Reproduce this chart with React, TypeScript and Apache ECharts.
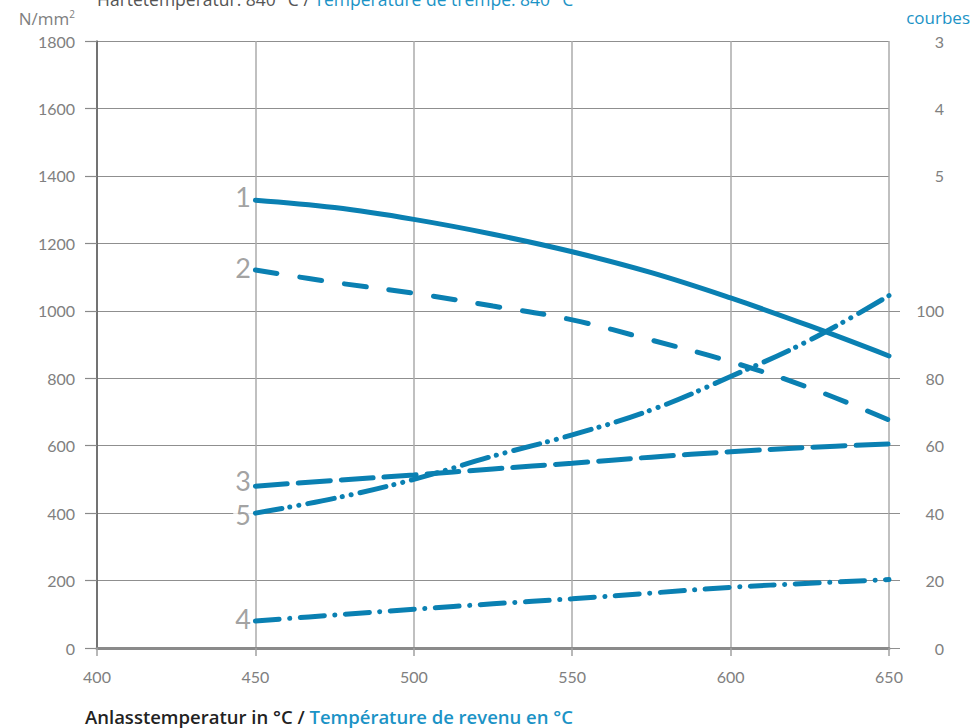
import React, { useEffect, useRef } from 'react';
import * as echarts from 'echarts';

const temps = [450, 475, 500, 525, 550, 575, 600, 625, 650];
const curve1 = [1328, 1306, 1271, 1227, 1175, 1113, 1038, 955, 866];
const curve2 = [1121, 1084, 1052, 1014, 973, 913, 849, 771, 676];
const curve3 = [480, 497, 513, 531, 548, 566, 582, 595, 605];
const curve4 = [80, 98, 115, 131, 146, 163, 180, 192, 203];
const curve5 = [400, 444, 500, 569, 632, 706, 805, 913, 1045];
const curveNames = ['1', '2', '3', '4', '5'];
const rightValues = [0, 200, 400, 600, 800, 1000, 1400, 1600, 1800];
const rightLabels = ['0', '20', '40', '60', '80', '100', '5', '4', '3'];

const BLUE = '#0a80b2';
const LABEL_BLUE = '#1b93c6';
const GRAY = '#808080';
const FONT = 'Lato, "Noto Sans", sans-serif';
const TFONT = '"Open Sans", Lato, sans-serif';

export default function App() {
  const ref = useRef<HTMLDivElement>(null);
  useEffect(() => {
    if (!ref.current) return;
    const chart = echarts.init(ref.current, undefined, { renderer: 'svg' });
    const curves = [curve1, curve2, curve3, curve4, curve5];
    const dashes: any[] = [
      'solid',
      [22, 23],
      [32, 11],
      [24, 10.5, 0.1, 10.5],
      [27, 8, 0.1, 9, 0.1, 9],
    ];
    const labelOffsets = [[0, -4], [0, -2], [0, -6], [0, -3], [0, 1]];
    const lineSeries = curves.map((c, k) => ({
      type: 'line',
      yAxisIndex: 0,
      smooth: 0.4,
      symbol: 'none',
      z: 5,
      lineStyle: { color: BLUE, width: 5, type: dashes[k], cap: 'round' },
      data: temps.map((t, i) => [t, c[i]]),
    }));
    const labelSeries = curves.map((c, k) => ({
      type: 'scatter',
      yAxisIndex: 0,
      symbolSize: 1,
      z: 6,
      silent: true,
      itemStyle: { color: 'rgba(0,0,0,0)' },
      label: {
        show: true,
        position: 'left',
        distance: 2,
        offset: labelOffsets[k],
        formatter: curveNames[k],
        fontSize: 27,
        fontFamily: FONT,
        color: '#8a8a8a',
        backgroundColor: '#fff',
        padding: [0, 2],
      },
      data: [[temps[0], c[0]]],
    }));
    chart.setOption({
      animation: false,
      grid: { left: 97, right: 83, top: 41, bottom: 80, containLabel: false },
      xAxis: {
        type: 'value',
        min: 400,
        max: 650,
        interval: 50,
        axisLine: { show: true, onZero: false, lineStyle: { color: '#8a8a8a', width: 3 } },
        axisTick: { show: true, length: 8, lineStyle: { color: '#a0a0a0', width: 1.5 } },
        axisLabel: { color: GRAY, fontSize: 16, fontFamily: FONT, margin: 20, formatter: (v: number) => String(v) },
        splitLine: { show: true, lineStyle: { color: '#ababab', width: 1.5 } },
      },
      yAxis: [
        {
          type: 'value',
          min: 0,
          max: 1800,
          interval: 200,
          position: 'left',
          axisLine: { show: true, lineStyle: { color: '#5a5a5a', width: 1.5 } },
          axisTick: { show: true, length: 12, lineStyle: { color: '#8a8a8a', width: 1.2 } },
          axisLabel: { color: GRAY, fontSize: 16, fontFamily: FONT, margin: 22, formatter: (v: number) => String(v) },
          splitLine: { show: true, lineStyle: { color: '#8f8f8f', width: 1 } },
        },
        {
          type: 'value',
          min: 0,
          max: 1800,
          interval: 200,
          position: 'right',
          axisLine: { show: false },
          axisTick: {
            show: true,
            length: 11,
            customValues: [0, 200, 400, 600, 800, 1000],
            lineStyle: { color: '#8f8f8f', width: 1 },
          },
          axisLabel: {
            color: GRAY,
            fontSize: 16,
            fontFamily: FONT,
            margin: 55,
            align: 'right',
            customValues: rightValues,
            formatter: (v: number) => {
              const i = rightValues.indexOf(v);
              return i >= 0 ? rightLabels[i] : '';
            },
          },
          splitLine: { show: false },
        },
      ],
      series: [...lineSeries, ...labelSeries],
      graphic: [
        {
          type: 'text',
          x: 97,
          y: -1,
          style: {
            text: '{a|Härtetemperatur: 840 °C / }{b|Température de trempe: 840 °C}',
            verticalAlign: 'middle',
            rich: {
              a: { fill: '#555', fontSize: 17.5, fontFamily: TFONT },
              b: { fill: LABEL_BLUE, fontSize: 17.5, fontFamily: TFONT },
            },
          },
        },
        {
          type: 'text',
          x: 75,
          y: 18,
          style: {
            text: 'N/mm{s|2}',
            align: 'right',
            verticalAlign: 'middle',
            fill: GRAY,
            fontSize: 17,
            fontFamily: TFONT,
            rich: { s: { fontSize: 10, fill: GRAY, fontFamily: TFONT, verticalAlign: 'top', padding: [0, 0, 8, 0] } },
          },
        },
        {
          type: 'text',
          x: 970,
          y: 17,
          style: {
            text: 'courbes',
            align: 'right',
            verticalAlign: 'middle',
            fill: LABEL_BLUE,
            fontSize: 17,
            fontFamily: TFONT,
          },
        },
        {
          type: 'text',
          x: 85,
          y: 716,
          style: {
            text: '{a|Anlasstemperatur in °C / }{b|Température de revenu en °C}',
            verticalAlign: 'middle',
            rich: {
              a: { fill: '#222', fontSize: 18.5, fontWeight: 600, fontFamily: TFONT },
              b: { fill: LABEL_BLUE, fontSize: 18.5, fontWeight: 600, fontFamily: TFONT },
            },
          },
        },
      ],
    });
    return () => chart.dispose();
  }, []);
  return <div ref={ref} style={{ width: 972, height: 728, position: 'absolute', left: 0, top: 0 }} />;
}
